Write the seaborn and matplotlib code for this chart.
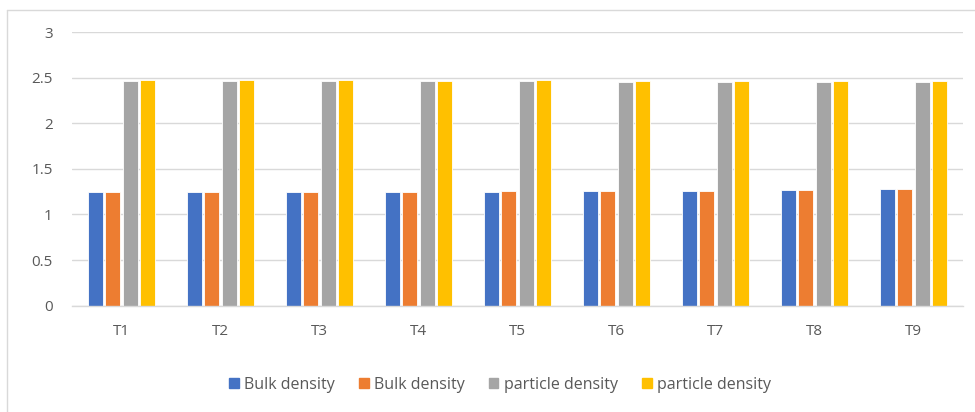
import numpy as np
import pandas as pd
import matplotlib.pyplot as plt
import seaborn as sns
from matplotlib.lines import Line2D

# values
treatments = ["T1", "T2", "T3", "T4", "T5", "T6", "T7", "T8", "T9"]
bulk_a = [1.241, 1.241, 1.244, 1.248, 1.251, 1.255, 1.259, 1.266, 1.277]
bulk_b = [1.244, 1.246, 1.248, 1.248, 1.255, 1.260, 1.262, 1.270, 1.280]
particle_a = [2.462, 2.458, 2.462, 2.458, 2.458, 2.455, 2.451, 2.451, 2.451]
particle_b = [2.473, 2.473, 2.473, 2.466, 2.470, 2.466, 2.462, 2.458, 2.458]
series_labels = ["Bulk density", "Bulk density", "particle density", "particle density"]
colors = ["#4472C4", "#ED7D31", "#A5A5A5", "#FFC000"]

keys = ["s1", "s2", "s3", "s4"]
frames = []
for k, vals in zip(keys, [bulk_a, bulk_b, particle_a, particle_b]):
    frames.append(pd.DataFrame({"treatment": treatments, "series": k, "value": vals}))
df = pd.concat(frames, ignore_index=True)

sns.set_style("white")
plt.rcParams["font.family"] = ["Open Sans", "DejaVu Sans"]

fig = plt.figure(figsize=(9.75, 4.12), dpi=100)
ax = fig.add_axes([72 / 975, 1 - 305.7 / 412, (963 - 72) / 975, (305.7 - 32) / 412])

sns.barplot(data=df, x="treatment", y="value", hue="series", palette=colors,
            saturation=1, width=0.70, gap=0.14, edgecolor="white", linewidth=0.6,
            errorbar=None, legend=False, ax=ax)

ax.set_ylim(0, 3)
ax.set_yticks(np.arange(0, 3.01, 0.5))
ax.set_yticklabels(["0", "0.5", "1", "1.5", "2", "2.5", "3"])
ax.set_xlim(-0.5, len(treatments) - 0.5)
ax.grid(axis="y", color="#D9D9D9", linewidth=1)
ax.set_axisbelow(True)
for s in ["top", "right", "left"]:
    ax.spines[s].set_visible(False)
ax.spines["bottom"].set_color("#D9D9D9")
ax.spines["bottom"].set_linewidth(1)
ax.set_xlabel("")
ax.set_ylabel("")
ax.tick_params(axis="both", length=0, labelsize=11, labelcolor="#595959")
ax.tick_params(axis="x", pad=13)
ax.tick_params(axis="y", pad=14)

handles = [plt.Rectangle((0, 0), 1, 1, color=c) for c in colors]
fig.legend(handles, series_labels, loc="center", bbox_to_anchor=(0.513, 1 - 385 / 412),
           ncol=4, frameon=False, fontsize=11.5, labelcolor="#595959",
           handlelength=0.6, handleheight=0.6, handletextpad=0.35, columnspacing=1.5)

# outer chart frame (only top and left edges visible)
fig.add_artist(Line2D([7 / 975, 7 / 975], [0, 1 - 10 / 412], color="#D9D9D9", linewidth=1))
fig.add_artist(Line2D([7 / 975, 1], [1 - 10 / 412, 1 - 10 / 412], color="#D9D9D9", linewidth=1))

fig.savefig("out.png", dpi=100)
